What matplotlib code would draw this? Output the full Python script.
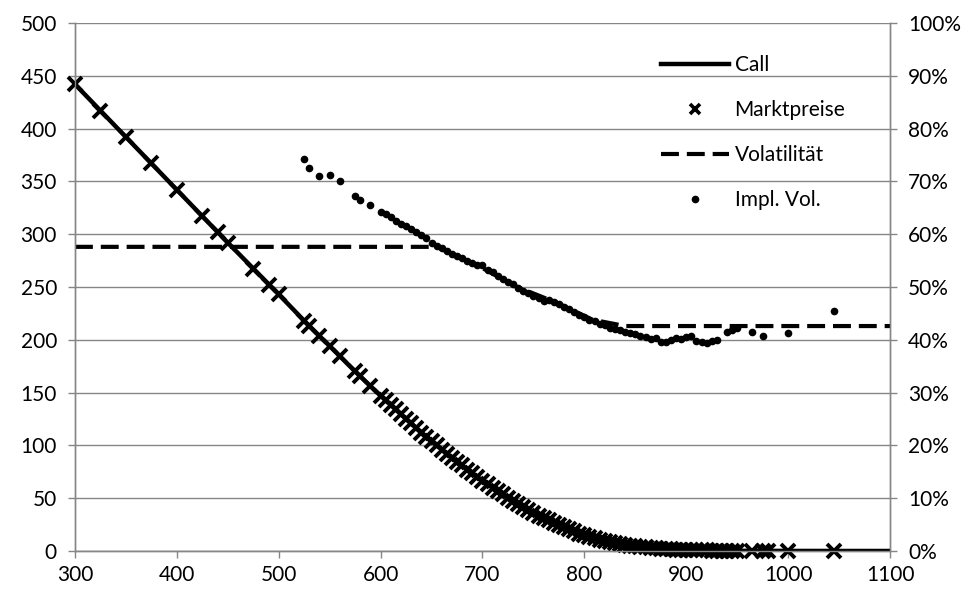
import matplotlib.pyplot as plt
from matplotlib.ticker import PercentFormatter
from matplotlib.lines import Line2D

plt.rcParams['font.family'] = ['Lato', 'DejaVu Sans']

# call price curve (left axis)
call_strike = [300, 350, 400, 450, 500, 525, 550, 575, 600, 625, 650, 675, 700, 725,
               750, 775, 800, 825, 850, 875, 900, 925, 950, 1000, 1050, 1100]
call_price = [442, 392, 342, 292, 243, 218, 194, 170, 147, 125, 104, 84.5, 66.5, 50.5,
              36, 24.5, 15, 8.5, 4.3, 2.1, 0.9, 0.4, 0.2, 0.05, 0.02, 0.0]

# market prices (x markers)
mkt_strike = [300, 325, 350, 375, 400, 425, 440, 450, 475, 490, 500, 525, 530, 540, 550,
              560, 575, 580, 590,
              600, 605, 610, 615, 620, 625, 630, 635, 640, 645, 650, 655, 660, 665, 670,
              675, 680, 685, 690, 695, 700, 705, 710, 715, 720, 725, 730, 735, 740, 745,
              750, 755, 760, 765, 770, 775, 780, 785, 790, 795, 800, 805, 810, 815, 820,
              825, 830, 835, 840, 845, 850, 855, 860, 865, 870, 875, 880, 885, 890, 895,
              900, 905, 910, 915, 920, 925, 930, 935, 940, 945, 950, 965, 975, 980, 1000,
              1045]
mkt_price = [442, 417, 392, 367, 342, 317, 302, 292, 267, 252, 243, 218, 213, 204, 194,
             185, 170, 166, 156,
             147, 143, 138.5, 134, 129.5, 125, 121, 116.5, 112, 108, 104, 100, 96, 92, 88,
             84.5, 81, 77, 73.5, 70, 66.5, 63, 60, 56.5, 53.5, 50.5, 47.5, 44.5, 41.5, 39,
             36, 33.5, 31, 29, 26.5, 24.5, 22.5, 20.5, 18.5, 16.5, 15, 13.5, 12, 10.5, 9.5,
             8.5, 7.5, 6.5, 5.5, 5, 4.3, 3.8, 3.3, 2.8, 2.4, 2.1, 1.8, 1.5, 1.3, 1.1,
             0.9, 0.8, 0.7, 0.6, 0.5, 0.4, 0.35, 0.3, 0.25, 0.2, 0.2, 0.1, 0.1, 0.1, 0.05,
             0.05]

# model volatility (right axis, fraction)
vol_strike = [300, 655, 694, 734, 773, 808, 840, 1100]
vol_value = [0.576, 0.576, 0.542, 0.500, 0.470, 0.438, 0.426, 0.426]

# implied volatility dots (right axis, percent)
iv_strike = [525, 530, 540, 550, 560, 575, 580, 590,
             600, 605, 610, 615, 620, 625, 630, 635, 640, 645, 650, 655, 660, 665, 670,
             675, 680, 685, 690, 695, 700, 705, 710, 715, 720, 725, 730, 735, 740, 745,
             750, 755, 760, 765, 770, 775, 780, 785, 790, 795, 800, 805, 810, 815, 820,
             825, 830, 835, 840, 845, 850, 855, 860, 865, 870, 875, 880, 885, 890, 895,
             900, 905, 910, 915, 920, 925, 930, 940, 945, 950, 965, 975, 1000, 1045]
iv_value = [74.2, 72.5, 71.0, 71.3, 70.0, 67.3, 66.5, 65.5,
            64.2, 63.8, 63.2, 62.4, 62.0, 61.5, 61.0, 60.4, 59.8, 59.2, 58.3, 57.8, 57.3,
            56.8, 56.3, 55.9, 55.5, 55.0, 54.6, 54.2, 54.1, 53.3, 52.8, 52.1, 51.6, 51.0,
            50.5, 49.9, 49.3, 48.8, 48.3, 47.9, 47.4, 47.6, 47.2, 46.8, 46.3, 45.8, 45.3,
            44.7, 44.4, 43.8, 43.6, 42.9, 42.8, 42.3, 42.0, 41.8, 41.5, 41.2, 41.0, 40.7,
            40.5, 40.1, 40.3, 39.6, 39.6, 40.0, 40.4, 40.2, 40.5, 40.8, 39.8, 39.6, 39.4,
            39.8, 40.0, 41.5, 41.8, 42.2, 41.5, 40.7, 41.2, 45.5]

grid_col = '#868686'
dash = (0, (4.3, 1.9))

fig = plt.figure(figsize=(9.71, 5.92), dpi=100)
ax = fig.add_axes([0.0772, 0.0693, 0.8394, 0.8919])
ax2 = ax.twinx()

ax.plot(call_strike, call_price, color='black', lw=3.2, zorder=3)
ax.plot(mkt_strike, mkt_price, ls='none', marker='x', color='black', ms=9.5, mew=2.8,
        zorder=4, clip_on=False)
ax2.plot(vol_strike, vol_value, color='black', lw=3, ls=dash, zorder=2)
ax2.plot(iv_strike, [v / 100 for v in iv_value], ls='none', marker='o', color='black',
         ms=4.5, zorder=3)

ax.set_xlim(300, 1100)
ax.set_ylim(0, 500)
ax2.set_ylim(0, 1)
ax.set_xticks(range(300, 1101, 100))
ax.set_yticks(range(0, 501, 50))
ax2.set_yticks([i / 10 for i in range(11)])
ax2.yaxis.set_major_formatter(PercentFormatter(1.0, decimals=0))

ax.yaxis.grid(True, color=grid_col, lw=1)
ax.set_axisbelow(True)

for a in (ax, ax2):
    for s in a.spines.values():
        s.set_color(grid_col)
        s.set_linewidth(1)
    a.spines['top'].set_visible(False)
    a.tick_params(colors=grid_col, labelcolor='black', labelsize=15, length=5, width=1)
ax.tick_params(axis='y', pad=8)
ax2.tick_params(axis='y', pad=8)
ax.tick_params(axis='x', pad=5)

handles = [
    Line2D([], [], color='black', lw=3.2),
    Line2D([], [], ls='none', marker='x', color='black', ms=7, mew=2.6),
    Line2D([], [], color='black', lw=3, ls=dash),
    Line2D([], [], ls='none', marker='o', color='black', ms=4.5),
]
labels = ['Call', 'Marktpreise', 'Volatilität', 'Impl. Vol.']
fig.legend(handles, labels, loc='upper left', bbox_to_anchor=(0.661, 0.938),
           frameon=False, fontsize=15, handlelength=3.3, handletextpad=0.25,
           labelspacing=1.2)

fig.savefig('out.png', dpi=100)
